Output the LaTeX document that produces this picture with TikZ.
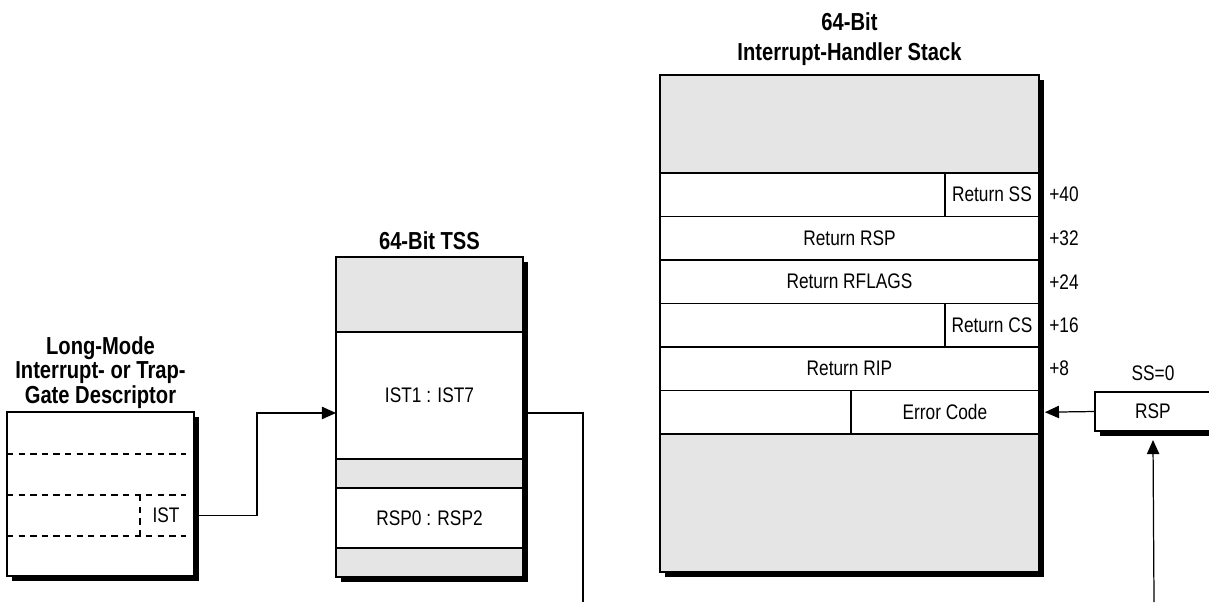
\documentclass[tikz,border=0pt]{standalone}
\usepackage{fontspec}
\setmainfont{Liberation Sans}[FakeStretch=0.82]
\usetikzlibrary{arrows.meta, positioning, fit, backgrounds}
\newcommand{\lbl}{\fontsize{12}{14}\selectfont}
\newcommand{\ttl}{\fontsize{14}{14}\selectfont\bfseries}
\tikzset{
  cell/.style={rectangle, draw=black, line width=0.8pt, fill=white, inner sep=0pt, outer sep=0pt,
               minimum width=7.58cm, minimum height=0.87cm, font=\lbl},
  shade/.style={cell, fill=black!10},
  frame/.style={rectangle, draw=black, line width=1.3pt, inner sep=0pt, outer sep=0pt},
  shadowbox/.style={rectangle, fill=black, inner sep=0pt, xshift=0.1cm, yshift=-0.1cm},
  title/.style={font=\ttl, align=center, inner sep=0pt},
  offs/.style={font=\lbl, anchor=west, inner sep=0pt},
  dashline/.style={line width=0.6pt, dash pattern=on 3.6pt off 3pt},
  link/.style={line width=0.7pt},
  arrow/.style={link, -{Triangle[length=8pt, width=7pt]}},
}

\begin{document}
\begin{tikzpicture}[x=0.02cm, y=-0.02cm]
  \useasboundingbox (0,0) rectangle (1209,602);

  % Gate descriptor
  \node[frame, fill=white, anchor=north west, minimum width=3.74cm, minimum height=3.28cm] (gate) at (7,412) {};
  \begin{pgfonlayer}{background}
    \node[shadowbox, fit=(gate)] {};
  \end{pgfonlayer}
  \foreach \y in {454,495,536}
    \draw[dashline] (7,\y) -- (186,\y);
  \draw[dashline] (140,495) -- (140,536);
  \node[font=\lbl] (ist) at (166,515.5) {IST};
  \node[title, above=0.06cm of gate] (gatettl) {Long-Mode\\Interrupt- or Trap-\\Gate Descriptor};

  % TSS
  \node[shade, anchor=north west, minimum width=3.74cm, minimum height=1.5cm] (tsstop) at (336,257) {};
  \node[cell, minimum width=3.74cm, minimum height=2.54cm, below=0pt of tsstop] (istcell) {IST1 : IST7};
  \node[shade, minimum width=3.74cm, minimum height=0.58cm, below=0pt of istcell] (tssgap) {};
  \node[cell, minimum width=3.74cm, minimum height=1.2cm, below=0pt of tssgap] (rspcell) {RSP0 : RSP2};
  \node[shade, minimum width=3.74cm, minimum height=0.58cm, below=0pt of rspcell] (tssbot) {};
  \begin{pgfonlayer}{background}
    \node[shadowbox, fit=(tsstop)(tssbot)] {};
  \end{pgfonlayer}
  \node[frame, fit=(tsstop)(tssbot)] (tss) {};
  \node[title, above=0.14cm of tss] (tssttl) {64-Bit TSS};

  % Interrupt-handler stack
  \node[shade, anchor=north west, minimum height=1.96cm] (sttop) at (660,75) {};
  \node[cell, below=0pt of sttop] (ssrow) {};
  \node[cell, below=0pt of ssrow] (rsprow) {Return RSP};
  \node[cell, below=0pt of rsprow] (flagrow) {Return RFLAGS};
  \node[cell, below=0pt of flagrow] (csrow) {};
  \node[cell, below=0pt of csrow] (riprow) {Return RIP};
  \node[cell, below=0pt of riprow] (errrow) {};
  \node[shade, minimum height=2.76cm, below=0pt of errrow] (stbot) {};
  \node[cell, anchor=north east, minimum width=1.88cm] (retss) at (ssrow.north east) {Return SS};
  \node[cell, anchor=north east, minimum width=1.88cm] (retcs) at (csrow.north east) {Return CS};
  \node[cell, anchor=north east, minimum width=3.76cm] (errcode) at (errrow.north east) {Error Code};
  \begin{pgfonlayer}{background}
    \node[shadowbox, fit=(sttop)(stbot)] {};
  \end{pgfonlayer}
  \node[frame, fit=(sttop)(stbot)] (stack) {};
  \node[title, above=0.18cm of stack] (stackttl) {64-Bit\\[3pt]Interrupt-Handler Stack};
  \foreach \r/\o in {ssrow/+40, rsprow/+32, flagrow/+24, csrow/+16, riprow/+8}
    \node[offs] at ([xshift=0.2cm]\r.east) {\o};

  % RSP register
  \node[frame, fill=white, anchor=north west, minimum width=2.32cm, minimum height=0.78cm, font=\lbl,
        label={[font=\lbl, label distance=0.1cm]above:SS=0}] (rspreg) at (1095,392) {RSP};
  \begin{pgfonlayer}{background}
    \node[shadowbox, fit=(rspreg)] {};
  \end{pgfonlayer}

  % Connectors
  \coordinate (istin) at ([yshift=-0.35cm]istcell.west);
  \coordinate (tssout) at (583,602);
  \coordinate (rspsrc) at (1154,602);
  \draw[arrow] (gate.east |- ist) -- ++(63,0) |- (istin);
  \draw[link] (istin -| tss.east) -| (tssout);
  \draw[arrow] (rspreg.west) -- ([xshift=0.12cm]errcode.east);
  \draw[arrow] (rspsrc) -- ([yshift=-0.18cm]rspreg.south);

\end{tikzpicture}
\end{document}
